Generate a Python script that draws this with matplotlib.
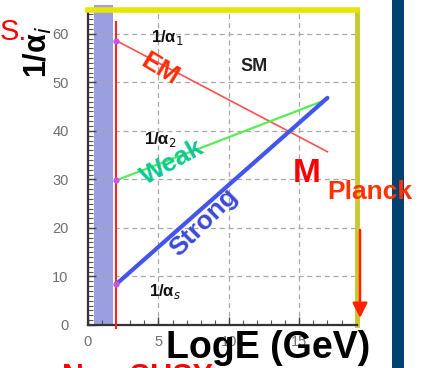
import matplotlib
matplotlib.use("Agg")
import matplotlib.pyplot as plt
from matplotlib.patches import Rectangle

plt.rcParams['font.family'] = ['Liberation Sans', 'DejaVu Sans']

# ---- data ----
log_e = [2.0, 17.0]
inv_alpha_em = [58.6, 35.7]
inv_alpha_weak = [29.8, 46.5]
inv_alpha_strong = [8.4, 46.8]
x_ticks = [0, 5, 10, 15]
y_ticks = [0, 10, 20, 30, 40, 50, 60]
band_x = [0.45, 1.8]
cut_line_x = 2.0

W, H = 426, 368
fig = plt.figure(figsize=(W / 100, H / 100), dpi=100)
fig.patch.set_facecolor('white')

ax = fig.add_axes([88 / W, 43 / H, 269 / W, 315 / H])
ax.set_xlim(0, 19.1)
ax.set_ylim(0, 64.9)

# band and cut line
ax.axvspan(band_x[0], band_x[1], ymin=0, ymax=1.015, color='#9a9fe0', zorder=1, clip_on=False, lw=0)
ax.plot([cut_line_x, cut_line_x], [62.4, -0.6], color='#ff2020', lw=1.5, zorder=4, clip_on=False)

# grid
ax.set_xticks(x_ticks)
ax.set_yticks(y_ticks)
ax.set_xticks(range(0, 20), minor=True)
ax.set_yticks(range(0, 65), minor=True)
ax.grid(True, which='major', color='#a8a8a8', lw=0.9, ls=(0, (4, 3)), zorder=0)

# lines
ax.plot(log_e, inv_alpha_em, color='#ff5050', lw=1.2, zorder=3)
ax.plot(log_e, inv_alpha_weak, color='#55ee55', lw=1.6, zorder=3)
ax.plot(log_e, inv_alpha_strong, color='#4455ee', lw=3.0, zorder=3, solid_capstyle='round')
ax.plot([log_e[0]] * 3, [inv_alpha_em[0], inv_alpha_weak[0], inv_alpha_strong[0]],
        ls='none', marker='o', ms=3.5, color='#cc55dd', zorder=5)

# spines and ticks
for s in ('left', 'bottom'):
    ax.spines[s].set_color('#333333')
    ax.spines[s].set_linewidth(1.6)
ax.spines['top'].set_color('#e6e600')
ax.spines['top'].set_linewidth(4)
ax.spines['right'].set_color('#c8c830')
ax.spines['right'].set_linewidth(3.5)
ax.tick_params(which='both', direction='in', top=False, right=False, colors='#444444')
ax.tick_params(which='major', length=6, width=1.0, labelsize=10.5, labelcolor='#707070')
ax.tick_params(which='minor', length=3.5, width=0.8, color='#555555')
ax.tick_params(axis='y', pad=14)
ax.tick_params(axis='x', pad=7)

# labels in the plot
ax.text(5.6, 59.2, r"1/α$_1$", fontsize=12, fontweight='bold', color='#111111', ha='center', va='center', zorder=6)
ax.text(5.1, 38.2, r"1/α$_2$", fontsize=12, fontweight='bold', color='#111111', ha='center', va='center', zorder=6)
ax.text(5.5, 7.0, r"1/α$_s$", fontsize=12, fontweight='bold', color='#111111', ha='center', va='center', zorder=6)
ax.text(11.8, 53.2, "SM", fontsize=13, fontweight='bold', color='#222222', ha='center', va='center', zorder=6)
ax.text(5.1, 52.8, "EM", fontsize=19, fontweight='bold', color='#ff2a00', rotation=-31,
        ha='center', va='center', zorder=6, rotation_mode='anchor')
ax.text(6.0, 33.6, "Weak", fontsize=19, fontweight='bold', color='#10c890', rotation=29,
        ha='center', va='center', zorder=6, rotation_mode='anchor')
ax.text(8.2, 21.2, "Strong", fontsize=19, fontweight='bold', color='#3a4ad8', rotation=45,
        ha='center', va='center', zorder=6, rotation_mode='anchor')

# right dark bar
fig.patches.append(Rectangle((392 / W, 0), 12 / W, 1, transform=fig.transFigure,
                             facecolor='#00416f', edgecolor='none', zorder=0))

# red arrow down
fig.add_artist(matplotlib.patches.FancyArrowPatch(
    (360 / W, 1 - 230 / H), (360 / W, 1 - 318 / H), transform=fig.transFigure,
    arrowstyle='-|>,head_length=9,head_width=4.5', color='#ff2200', lw=1.8, zorder=10,
    shrinkA=0, shrinkB=0))

# outside texts
fig.text(0 / W, 1 - 40 / H, "S.", fontsize=21, color='#ff0000', ha='left', va='baseline')
fig.text(38 / W, 1 - 52 / H, r"1/α$_i$", fontsize=22, fontweight='bold', color='#000000',
         rotation=90, ha='center', va='center')
fig.text(293 / W, 1 - 182 / H, "M", fontsize=24, fontweight='bold', color='#ff0000', ha='left', va='baseline', zorder=11)
fig.text(327 / W, 1 - 199 / H, "Planck", fontsize=19, fontweight='bold', color='#ff3300', ha='left', va='baseline', zorder=11)
fig.text(166 / W, 1 - 358 / H, "LogE (GeV)", fontsize=27, fontweight='bold', color='#000000', ha='left', va='baseline', zorder=11)
fig.text(62 / W, 1 - 386 / H, "Non SUSY", fontsize=22, fontweight='bold', color='#ff0000', ha='left', va='baseline', zorder=11)

fig.savefig("out.png", dpi=100, facecolor='white')
